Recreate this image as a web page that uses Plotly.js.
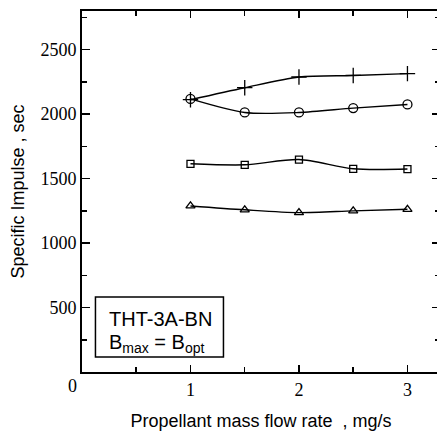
<!DOCTYPE html>
<html>
<head>
<meta charset="utf-8">
<script src="https://cdn.plot.ly/plotly-3.0.1.min.js"></script>
<style>
html,body{margin:0;padding:0;overflow:hidden;background:#fff;width:437px;height:431px;}
#chart{width:442px;height:431px;}
</style>
</head>
<body>
<div id="chart"></div>
<script>
// Data
const flowRate = [1, 1.5, 2, 2.5, 3];
const ispCross = [2112, 2205, 2288, 2300, 2314];
const ispCircle = [2118, 2013, 2013, 2047, 2075];
const ispSquare = [1615, 1607, 1648, 1576, 1574];
const ispTriangle = [1288, 1258, 1236, 1250, 1262];
const xTickVals = [1, 2, 3];
const xMinorVals = [0.5, 1.5, 2.5];
const yTickVals = [500, 1000, 1500, 2000, 2500];
const yMinorVals = [250, 750, 1250, 1750, 2250, 2750];
const boxLine1 = 'THT-3A-BN';
const boxLine2 = 'B<sub>max</sub> = B<sub>opt</sub>';

function series(y, symbol, size) {
  return {
    x: flowRate, y: y, type: 'scatter', mode: 'lines+markers',
    line: {color: '#000', width: 1.4, shape: 'spline', smoothing: 0.8},
    marker: {symbol: symbol, size: size, color: '#000', line: {color: '#000', width: 1.3}},
    showlegend: false, cliponaxis: false
  };
}

const traces = [
  series(ispCross, 'cross-thin-open', 11),
  series(ispCircle, 'circle-open', 9),
  series(ispSquare, 'square-open', 7),
  series(ispTriangle, 'triangle-up-open', 8)
];

const tickFont = {family: '"Liberation Serif", "Times New Roman", serif', size: 18, color: '#000'};
const sansFont = {family: '"Liberation Sans", Arial, sans-serif', size: 17, color: '#000'};

const layout = {
  width: 442, height: 431,
  margin: {l: 82, r: 2, t: 11, b: 59},
  paper_bgcolor: '#fff', plot_bgcolor: '#fff',
  font: sansFont,
  xaxis: {
    range: [0, 3.3], tickmode: 'array', tickvals: xTickVals,
    ticks: 'inside', ticklen: 7, tickwidth: 1.5, tickcolor: '#000',
    minor: {tickmode: 'array', tickvals: xMinorVals, ticks: 'inside', ticklen: 5, tickwidth: 1.5, tickcolor: '#000'},
    showline: true, linewidth: 2, linecolor: '#000', mirror: 'ticks',
    showgrid: false, zeroline: false, tickfont: tickFont,
    title: {text: 'Propellant mass flow rate \u00a0, mg/s', font: {family: sansFont.family, size: 18, color: '#000'}, standoff: 24}
  },
  yaxis: {
    range: [0, 2800], tickmode: 'array', tickvals: yTickVals,
    ticks: 'inside', ticklen: 8, tickwidth: 1.5, tickcolor: '#000',
    minor: {tickmode: 'array', tickvals: yMinorVals, ticks: 'inside', ticklen: 5, tickwidth: 1.5, tickcolor: '#000'},
    showline: true, linewidth: 2, linecolor: '#000', mirror: 'ticks',
    showgrid: false, zeroline: false, tickfont: tickFont,
    title: {text: 'Specific Impulse , sec', font: {family: sansFont.family, size: 18, color: '#000'}, standoff: 11}
  },
  shapes: [
    {type: 'rect', xref: 'x', yref: 'y', x0: 0.124, x1: 1.304, y0: 116, y1: 582,
     line: {color: '#000', width: 1.5}, fillcolor: 'rgba(0,0,0,0)'}
  ],
  annotations: [
    {xref: 'x', yref: 'y', x: 0, y: 0, text: '0', showarrow: false, xanchor: 'center', yanchor: 'top',
     xshift: -10, yshift: -2, font: tickFont},
    {xref: 'x', yref: 'y', x: 0.235, y: 411, text: boxLine1, showarrow: false, xanchor: 'left', yanchor: 'middle',
     font: {family: sansFont.family, size: 20, color: '#000'}},
    {xref: 'x', yref: 'y', x: 0.235, y: 222, text: boxLine2, showarrow: false, xanchor: 'left', yanchor: 'middle',
     font: {family: sansFont.family, size: 20, color: '#000'}}
  ]
};

Plotly.newPlot('chart', traces, layout, {staticPlot: true, displayModeBar: false});
</script>
</body>
</html>
